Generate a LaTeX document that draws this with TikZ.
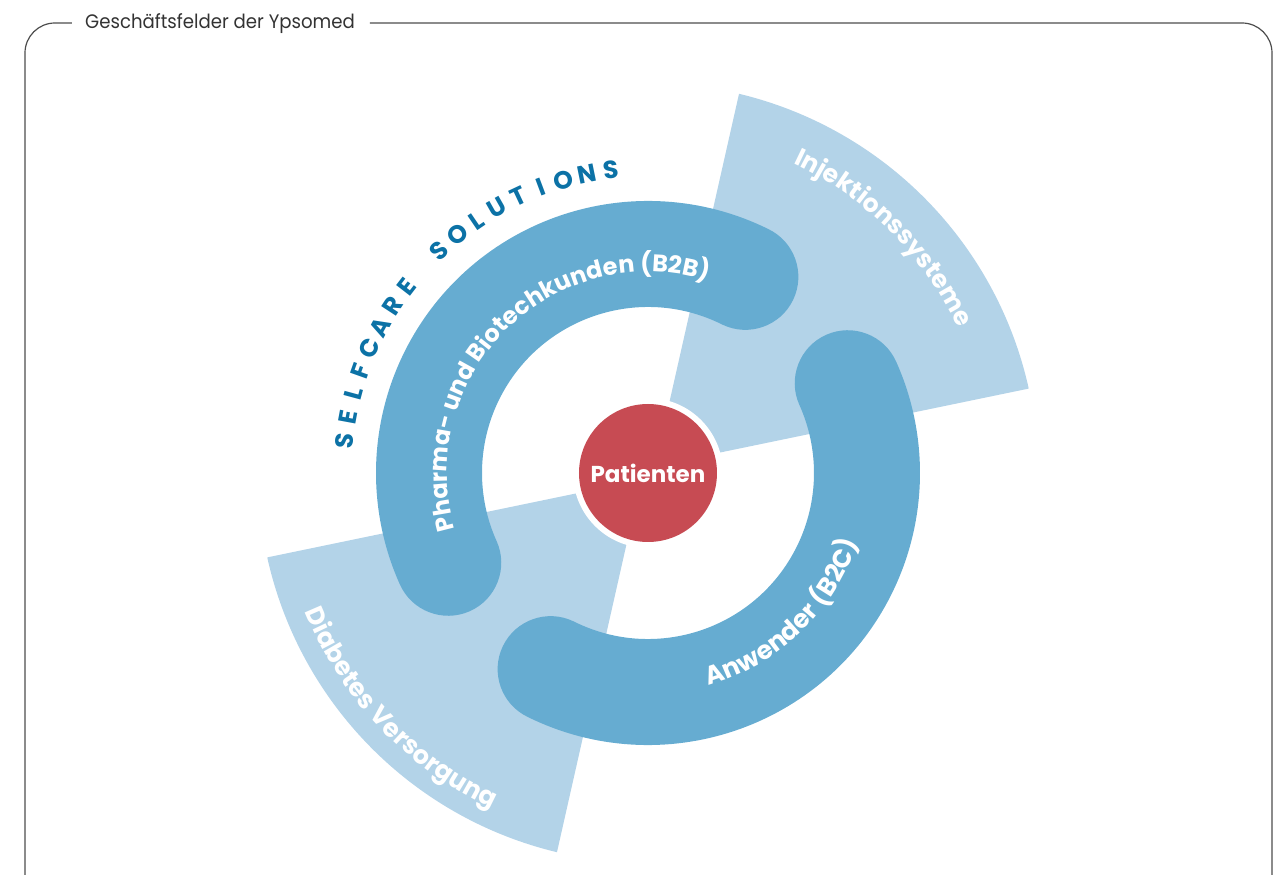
\documentclass[tikz,border=0pt]{standalone}
\usepackage{fontspec}
\usetikzlibrary{decorations.text}
\newfontfamily\lblfont{Poppins}
\newfontfamily\ttlfont{Poppins}[FakeStretch=0.93]
\definecolor{lightsec}{HTML}{B3D3E8}
\definecolor{bandblue}{HTML}{66ACD1}
\definecolor{patred}{HTML}{C74B53}
\definecolor{selfblue}{HTML}{0C72A6}
\definecolor{framegray}{HTML}{4D4D4D}
\tikzset{
  sector/.style={fill=lightsec},
  band/.style={draw=bandblue, line width=106pt, line cap=round},
  selfletter/.style={inner sep=0pt, text=selfblue, font=\lblfont\bfseries\fontsize{25}{25}\selectfont},
  frameline/.style={draw=framegray, line width=1.2pt},
}
\begin{document}
\begin{tikzpicture}[x=1pt,y=1pt]
\useasboundingbox (-648,-402) rectangle (640,473);
% frame
\draw[frameline, rounded corners=30pt] (-576,450) -- (-623,450) -- (-623,-432) -- (624,-432) -- (624,450) -- (-278,450);
\node[anchor=base west, inner sep=0pt, text=black!80, font=\ttlfont\fontsize{19.5}{19.5}\selectfont] (title) at (-563,444) {Geschäftsfelder der Ypsomed};
% sectors
\fill[sector] (7,7) -- (76.5:390) arc[start angle=76.5, end angle=12.5, radius=390] -- cycle;
\fill[sector] (-7,-7) -- (256.5:390) arc[start angle=256.5, end angle=192.5, radius=390] -- cycle;
% bands
\draw[band] (63.6:219) arc[start angle=63.6, end angle=204.2, radius=219];
\draw[band] (243.6:219) arc[start angle=243.6, end angle=384.2, radius=219];
% band labels
\path[decorate, decoration={text along path, text align=center, text color=white,
  text={|\lblfont\bfseries\fontsize{24}{24}\selectfont|Pharma- und Biotechkunden (B2B)}}]
  (205:201) arc[start angle=205, end angle=64, radius=201];
\path[decorate, decoration={text along path, text align=center, text color=white,
  text={|\lblfont\bfseries\fontsize{25.5}{25.5}\selectfont|Anwender (B2C)}}]
  (243.6:221) arc[start angle=243.6, end angle=384.2, radius=221];
% sector labels
\path[decorate, decoration={text along path, text align=center, text color=white,
  text={|\lblfont\bfseries\fontsize{25}{25}\selectfont|Injektionssysteme}}]
  (80:342) arc[start angle=80, end angle=10, radius=342];
\path[decorate, decoration={text along path, text align=center, text color=white,
  text={|\lblfont\bfseries\fontsize{25.5}{25.5}\selectfont|Diabetes Versorgung}}]
  (188:370) arc[start angle=188, end angle=259, radius=370];
% SELFCARE SOLUTIONS
\foreach \ch [count=\i from 0] in {S,E,L,F,C,A,R,E}
  \node[selfletter, rotate={84-\i*4.53}] (sa\i) at ({174-\i*4.53}:305) {\ch};
\foreach \ch [count=\i from 9] in {S,O,L,U,T,I,O,N,S}
  \node[selfletter, rotate={84-\i*4.53}] (sb\i) at ({174-\i*4.53}:305) {\ch};
% patients
\fill[white] (0,0) circle (75);
\node[circle, fill=patred, minimum size=138pt, inner sep=0pt, text=white, font=\lblfont\bfseries\fontsize{23}{23}\selectfont] (pat) at (0,0) {Patienten};
\end{tikzpicture}
\end{document}
